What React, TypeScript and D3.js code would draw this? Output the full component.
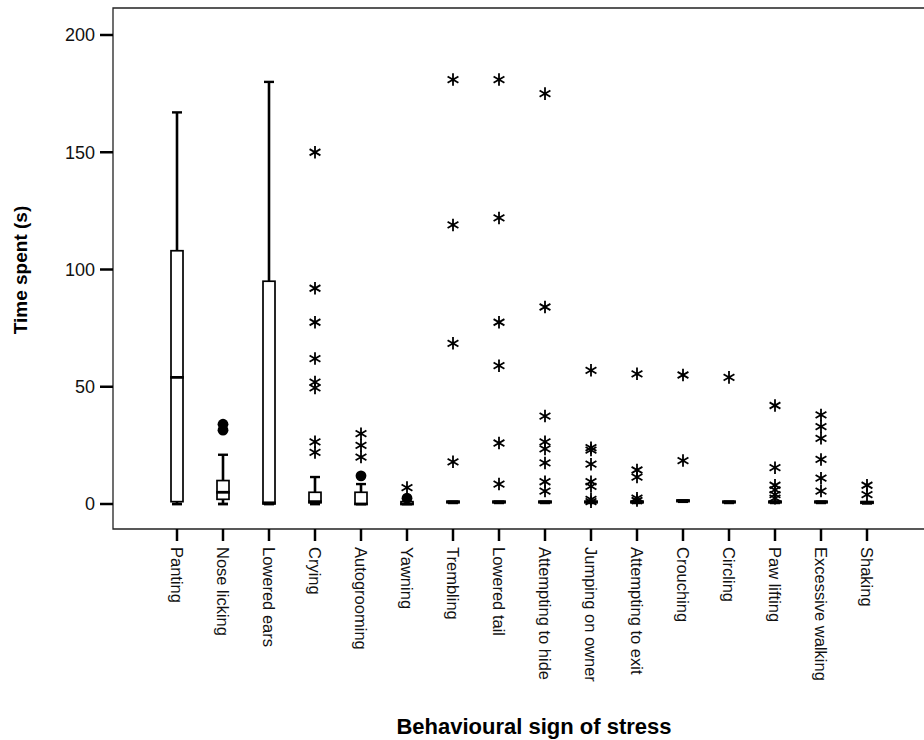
import React from 'react';
import * as d3 from 'd3';

// behaviour categories, left to right
const categories = [
  'Panting', 'Nose licking', 'Lowered ears', 'Crying', 'Autogrooming', 'Yawning',
  'Trembling', 'Lowered tail', 'Attempting to hide', 'Jumping on owner',
  'Attempting to exit', 'Crouching', 'Circling', 'Paw lifting', 'Excessive walking', 'Shaking',
];

// box statistics (seconds)
const whiskerLow = [0, 0, 0, 0, 0, 0, 0.5, 0.5, 0.5, 0.5, 0.5, 1, 0.5, 0.5, 0.5, 0.3];
const q1 = [1, 2, 0, 0.5, 0, 0, 0.5, 0.5, 0.5, 0.5, 0.5, 1, 0.5, 0.5, 0.5, 0.3];
const median = [54, 5, 0.5, 1, 0, 0, 1, 1, 1, 1, 1, 1.5, 1, 1, 1, 0.8];
const q3 = [108, 10, 95, 5, 5, 1, 1, 1, 1, 1, 1, 1.5, 1, 1, 1, 0.8];
const whiskerHigh = [167, 21, 180, 11.5, 8.5, 1, 1, 1, 1, 1, 1, 1.5, 1, 1, 1, 0.8];

// outliers drawn as dots
const mildOutliers = [[], [34, 31.5], [], [], [12], [2.5], [], [], [], [], [], [], [], [], [], []];

// extreme values drawn as asterisks
const extremeOutliers = [
  [],
  [],
  [],
  [150, 92, 77.5, 62, 52, 49.5, 26.5, 22],
  [30, 25, 20],
  [7],
  [181, 119, 68.5, 18],
  [181, 122, 77.5, 59, 26, 8.5],
  [175, 84, 37.5, 26.5, 23.5, 17.5, 9.5, 5.5],
  [57, 24, 23, 17, 9.5, 7.5, 2, 1],
  [55.5, 14.5, 11.5, 2.5, 1.5],
  [55, 18.5],
  [54],
  [42, 15.5, 8, 6, 4, 2.5],
  [38, 33, 28, 19, 11, 5.5],
  [8, 4],
];

const yTicks = [0, 50, 100, 150, 200];

const W = 924;
const H = 740;
const frame = { left: 113, top: 8, bottom: 529, right: W };

const App = () => {
  const x = d3.scalePoint<string>().domain(categories).range([177, 867]);
  const y = d3.scaleLinear().domain([0, 200]).range([504, 35]);

  const boxW = 12;
  const capW = 10;
  const star = d3.symbol().type(d3.symbolAsterisk).size(110)();
  const font = 'Arial, "Liberation Sans", Helvetica, sans-serif';

  return (
    <svg width={W} height={H} style={{ position: 'absolute', left: 0, top: 0, background: '#fff' }} fontFamily={font}>
      {/* frame */}
      <path
        d={`M${frame.right},${frame.top}H${frame.left}V${frame.bottom}H${frame.right}`}
        fill="none" stroke="#222" strokeWidth={1.3}
      />

      {/* y axis */}
      {yTicks.map(t => (
        <g key={t} transform={`translate(0,${y(t)})`}>
          <line x1={100} x2={frame.left} stroke="#000" strokeWidth={2.5} />
          <text x={95} dy="0.35em" textAnchor="end" fontSize={18} fill="#111">{t}</text>
        </g>
      ))}
      <text transform="translate(27,270) rotate(-90)" textAnchor="middle" fontSize={19} fontWeight="bold" fill="#000">
        Time spent (s)
      </text>

      {/* x axis */}
      {categories.map(c => (
        <g key={c} transform={`translate(${x(c)},0)`}>
          <line y1={frame.bottom} y2={541} stroke="#000" strokeWidth={2.5} />
          <text transform="translate(0,547) rotate(90)" dy="0.35em" fontSize={16.5} fill="#111">{c}</text>
        </g>
      ))}
      <text x={534} y={734} textAnchor="middle" fontSize={22} fontWeight="bold" fill="#000">
        Behavioural sign of stress
      </text>

      {/* boxes */}
      {categories.map((c, i) => {
        const cx = x(c) as number;
        return (
          <g key={c} stroke="#000">
            <line x1={cx} x2={cx} y1={y(q3[i])} y2={y(whiskerHigh[i])} strokeWidth={2.6} />
            <line x1={cx} x2={cx} y1={y(q1[i])} y2={y(whiskerLow[i])} strokeWidth={2.6} />
            <line x1={cx - capW / 2} x2={cx + capW / 2} y1={y(whiskerHigh[i])} y2={y(whiskerHigh[i])} strokeWidth={2.4} />
            <line x1={cx - capW / 2} x2={cx + capW / 2} y1={y(whiskerLow[i])} y2={y(whiskerLow[i])} strokeWidth={2.8} />
            <rect
              x={cx - boxW / 2} width={boxW}
              y={y(q3[i])} height={Math.max(0, y(q1[i]) - y(q3[i]))}
              fill="#fff" strokeWidth={1.7}
            />
            <line x1={cx - boxW / 2 - 0.8} x2={cx + boxW / 2 + 0.8} y1={y(median[i])} y2={y(median[i])} strokeWidth={2.8} />
            {mildOutliers[i].map((v, k) => (
              <circle key={`m${k}`} cx={cx} cy={y(v)} r={5.4} fill="#000" stroke="none" />
            ))}
            {extremeOutliers[i].map((v, k) => (
              <path key={`e${k}`} d={star as string} transform={`translate(${cx},${y(v)})`} fill="none" strokeWidth={1.8} />
            ))}
          </g>
        );
      })}
    </svg>
  );
};

export default App;
